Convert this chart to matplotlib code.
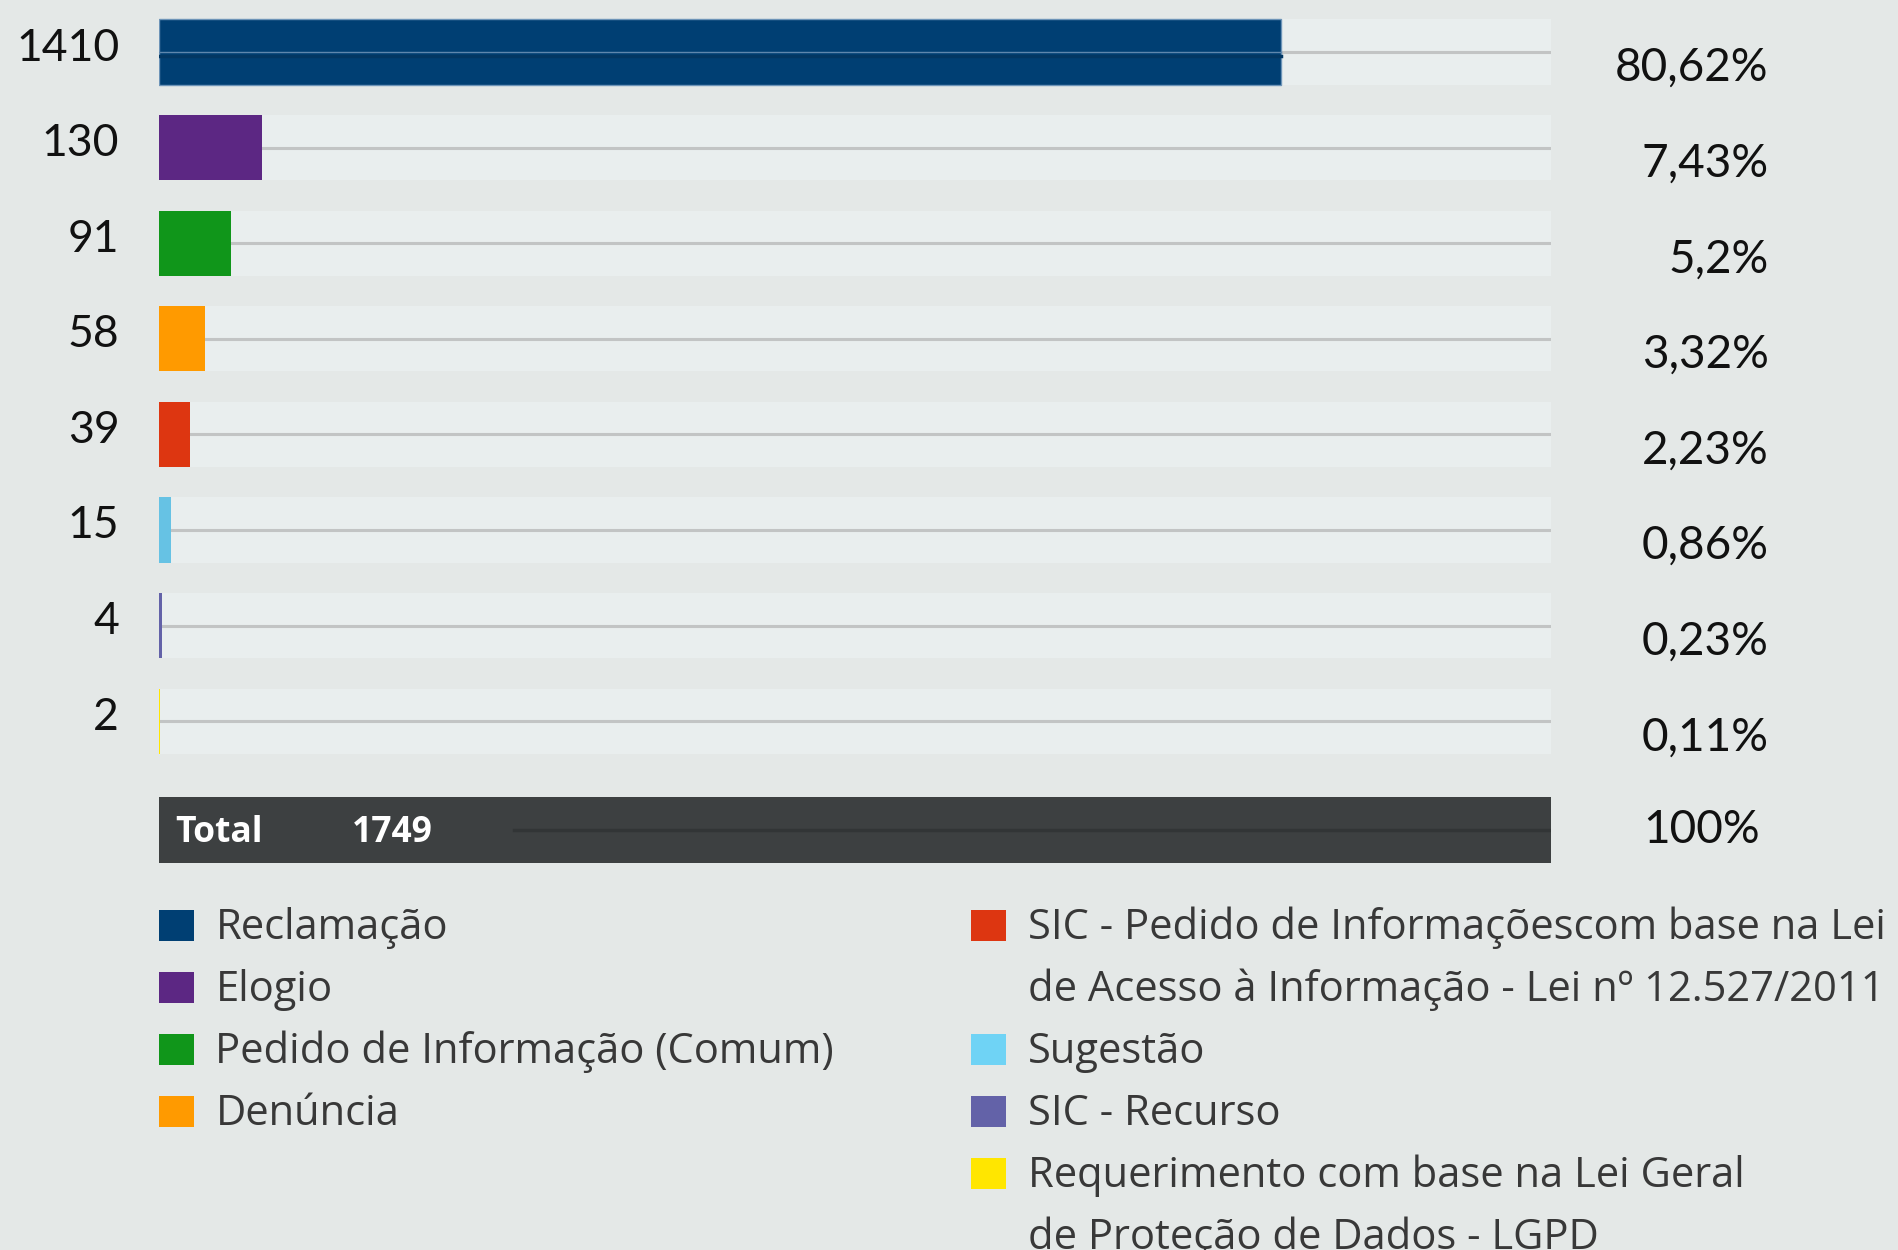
import matplotlib
matplotlib.use("Agg")
import matplotlib.pyplot as plt
from matplotlib.patches import Rectangle
from matplotlib.transforms import blended_transform_factory

# ---------------- data ----------------
categories = [
    "Reclamação",
    "Elogio",
    "Pedido de Informação (Comum)",
    "Denúncia",
    "SIC - Pedido de Informaçõescom base na Lei\nde Acesso à Informação - Lei nº 12.527/2011",
    "Sugestão",
    "SIC - Recurso",
    "Requerimento com base na Lei Geral\nde Proteção de Dados - LGPD",
]
values = [1410, 130, 91, 58, 39, 15, 4, 2]
percent_labels = ["80,62%", "7,43%", "5,2%", "3,32%", "2,23%", "0,86%", "0,23%", "0,11%"]
total_value = 1749
total_label = "Total"
total_percent = "100%"
bar_colors = ["#003f73", "#5c2783", "#10961a", "#ff9a00", "#dd3611", "#66c2e4", "#6362a8", "#ffe600"]
legend_colors = ["#003f73", "#5c2783", "#10961a", "#ff9a00", "#dd3611", "#6fd3f5", "#6362a8", "#ffe600"]

# ---------------- style ----------------
BG = "#e4e8e7"
TRACK = "#e9eeee"
GRID = "#c2c4c4"
TOTAL_BG = "#3d4041"
NUM_FONT = "Lato"
LEG_FONT = "Open Sans"

W, H = 1568.0, 1033.0  # layout reference units
def fx(x): return x / W
def fy(y): return 1 - y / H

fig = plt.figure(figsize=(18.98, 12.5), dpi=100)
fig.patch.set_facecolor(BG)

# bar axes
ax_top, ax_bot = 0.0, 733.0
row0, row_step = 43.0, 79.0
ax = fig.add_axes([fx(131), fy(ax_bot), fx(1281) - fx(131), (ax_bot - ax_top) / H])
ax.set_facecolor("none")
ax.set_xlim(0, total_value)
ax.set_ylim((ax_bot - row0) / row_step, (ax_top - row0) / row_step)
ax.axis("off")

n = len(values)
ypos = list(range(n))
total_y = (686.0 - row0) / row_step
bh = 54.0 / row_step

# tracks
ax.barh(ypos, [total_value] * n, height=bh, color=TRACK, zorder=1)
# grid lines at row centres
for y in ypos:
    ax.plot([0, total_value], [y, y], color=GRID, lw=2.2, zorder=2, solid_capstyle="butt")
# bars
bars = ax.barh(ypos, values, height=bh, color=bar_colors, zorder=3)
bars[0].set_edgecolor("#6d94b8")
bars[0].set_linewidth(1.0)
ax.plot([0, values[0]], [0, 0], color="#5f87ad", lw=1.0, zorder=4)
ax.plot([0, values[0]], [0.04, 0.04], color="#023763", lw=2.5, zorder=4)

# total bar
ax.barh([total_y], [total_value], height=bh, color=TOTAL_BG, zorder=3)
ax.plot([total_value * (425 - 131) / 1150, total_value], [total_y, total_y],
        color="#323536", lw=2.5, zorder=4)

# labels
trans = blended_transform_factory(fig.transFigure, ax.transData)
for y, v, p in zip(ypos, values, percent_labels):
    ax.text(fx(98.5), y + 7 / row_step, f"{v}", transform=trans, ha="right", va="baseline",
            fontsize=32, family=NUM_FONT, color="#111111")
    ax.text(fx(1461), y + 24 / row_step, p, transform=trans, ha="right", va="baseline",
            fontsize=33, family=NUM_FONT, color="#111111")

ax.text(fx(145), total_y + 10 / row_step, total_label, transform=trans, ha="left", va="baseline",
        fontsize=25.5, family=LEG_FONT, fontweight="bold", color="white", zorder=5)
ax.text(fx(291), total_y + 10 / row_step, f"{total_value}", transform=trans, ha="left",
        va="baseline", fontsize=25.5, family=LEG_FONT, fontweight="bold", color="white", zorder=5)
ax.text(fx(1454), total_y + 11 / row_step, total_percent, transform=trans, ha="right",
        va="baseline", fontsize=33, family=NUM_FONT, color="#111111")

# legend
line_step = 51.2
first_base = 776.0
def legend_entry(col_x, line_idx, color, text):
    base = first_base + line_step * line_idx
    sq = Rectangle((fx(col_x), fy(base + 2)), 29 / W, 26 / H, transform=fig.transFigure,
                   facecolor=color, edgecolor="none")
    fig.patches.append(sq)
    for k, line in enumerate(text.split("\n")):
        fig.text(fx(col_x + 47), fy(base + line_step * k), line, ha="left", va="baseline",
                 fontsize=30, family=LEG_FONT, color="#383838")
    return len(text.split("\n"))

half = 4
li = 0
for c, t in zip(legend_colors[:half], categories[:half]):
    li += legend_entry(131, li, c, t)
li = 0
for c, t in zip(legend_colors[half:], categories[half:]):
    li += legend_entry(802, li, c, t)

fig.savefig("out.png", dpi=100, facecolor=BG)
